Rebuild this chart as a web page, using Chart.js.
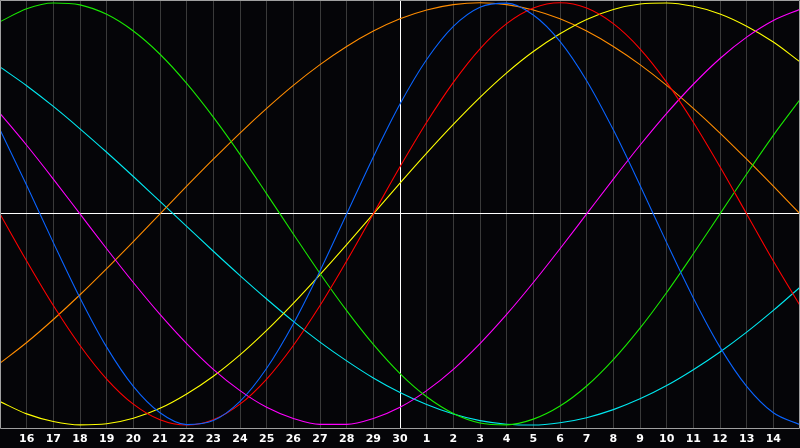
<!DOCTYPE html>
<html>
<head>
<meta charset="utf-8">
<script src="https://cdn.jsdelivr.net/npm/chart.js@4.4.1/dist/chart.umd.min.js"></script>
<style>
  html, body { margin: 0; padding: 0; background: #050508; }
  #wrap { width: 800px; height: 448px; position: relative; }
</style>
</head>
<body>
<div id="wrap"><canvas id="c"></canvas></div>
<script>
const days = ['15','16','17','18','19','20','21','22','23','24','25','26','27','28','29','30',
              '1','2','3','4','5','6','7','8','9','10','11','12','13','14','15'];

const physical23 = [0.398,0.136,-0.136,-0.398,-0.631,-0.817,-0.942,-0.998,-0.979,-0.888,-0.731,-0.520,-0.270,0.000,
                    0.270,0.520,0.731,0.888,0.979,0.998,0.942,0.817,0.631,0.398,0.136,-0.136,-0.398,-0.631,-0.817,-0.942,-0.998];
const emotional28 = [0.000,-0.223,-0.434,-0.623,-0.782,-0.901,-0.975,-1.000,-0.975,-0.901,-0.782,-0.623,-0.434,-0.223,
                     0.000,0.223,0.434,0.623,0.782,0.901,0.975,1.000,0.975,0.901,0.782,0.623,0.434,0.223,0.000,-0.223,-0.434];
const intellectual33 = [0.910,0.972,0.999,0.990,0.945,0.866,0.756,0.618,0.458,0.282,0.095,-0.095,-0.282,-0.458,-0.618,
                        -0.756,-0.866,-0.945,-0.990,-0.999,-0.972,-0.910,-0.815,-0.690,-0.541,-0.372,-0.189,0.000,0.189,0.372,0.541];
const intuitive38 = [0.476,0.325,0.165,0.000,-0.165,-0.325,-0.476,-0.614,-0.736,-0.837,-0.916,-0.969,-0.997,-0.997,-0.969,
                     -0.916,-0.837,-0.736,-0.614,-0.476,-0.325,-0.165,0.000,0.165,0.325,0.476,0.614,0.736,0.837,0.916,0.969];
const aesthetic43 = [-0.889,-0.947,-0.983,-0.999,-0.994,-0.968,-0.921,-0.853,-0.769,-0.668,-0.552,-0.424,-0.288,-0.146,
                     0.000,0.146,0.288,0.424,0.552,0.668,0.769,0.853,0.921,0.968,0.994,0.999,0.983,0.947,0.889,0.814,0.720];
const awareness48 = [-0.707,-0.609,-0.500,-0.383,-0.259,-0.131,0.000,0.131,0.259,0.383,0.500,0.609,0.707,0.793,0.866,
                     0.924,0.966,0.991,1.000,0.991,0.966,0.924,0.866,0.793,0.707,0.609,0.500,0.383,0.259,0.131,0.000];
const spiritual53 = [0.696,0.607,0.509,0.403,0.292,0.177,0.059,-0.059,-0.177,-0.292,-0.403,-0.509,-0.607,-0.696,-0.777,
                     -0.846,-0.903,-0.948,-0.979,-0.996,-1.000,-0.989,-0.965,-0.927,-0.876,-0.813,-0.738,-0.654,-0.560,-0.457,-0.347];

const yLimit = 1.013;

const series = [
  { label: 'Physical', data: physical23, color: '#0a64ff' },
  { label: 'Emotional', data: emotional28, color: '#ff0000' },
  { label: 'Intellectual', data: intellectual33, color: '#18e800' },
  { label: 'Intuitive', data: intuitive38, color: '#ff00ff' },
  { label: 'Aesthetic', data: aesthetic43, color: '#ffff00' },
  { label: 'Awareness', data: awareness48, color: '#ff8c00' },
  { label: 'Spiritual', data: spiritual53, color: '#00e8f0' }
];

const framePlugin = {
  id: 'frame',
  afterDatasetsDraw(chart) {
    const a = chart.chartArea, ctx = chart.ctx;
    const l = Math.round(a.left) + 0.5, r = Math.round(a.right) - 0.5;
    const t = Math.round(a.top) + 0.5, b = Math.round(a.bottom) + 0.5;
    ctx.save();
    ctx.strokeStyle = '#a0a0a0';
    ctx.lineWidth = 1;
    ctx.beginPath();
    ctx.moveTo(l, b);
    ctx.lineTo(l, t);
    ctx.lineTo(r, t);
    ctx.lineTo(r, b);
    ctx.lineTo(l, b);
    ctx.stroke();
    ctx.restore();
  }
};

new Chart(document.getElementById('c'), {
  type: 'line',
  data: {
    labels: days,
    datasets: series.map(s => ({
      label: s.label,
      data: s.data,
      borderColor: s.color,
      borderWidth: 1.1,
      pointRadius: 0,
      cubicInterpolationMode: 'monotone',
      fill: false
    }))
  },
  options: {
    responsive: true,
    maintainAspectRatio: false,
    animation: false,
    layout: { padding: { left: 0, right: 0, top: 0, bottom: 2 } },
    plugins: { legend: { display: false }, tooltip: { enabled: false } },
    scales: {
      x: {
        type: 'category',
        offset: false,
        grid: {
          drawTicks: true,
          tickLength: 5,
          tickColor: 'rgba(0,0,0,0)',
          color: ctx => (ctx.index === 15 ? '#ffffff' : '#3a3a3a'),
          lineWidth: 1
        },
        border: { display: false },
        ticks: {
          autoSkip: false,
          maxRotation: 0,
          padding: 0,
          color: '#ffffff',
          font: { family: 'DejaVu Sans', size: 11, weight: 'bold' },
          callback: function(v, i) { return (i === 0 || i === days.length - 1) ? '' : days[i]; }
        }
      },
      y: {
        min: -yLimit,
        max: yLimit,
        afterBuildTicks: axis => { axis.ticks = [{ value: 0 }]; },
        grid: {
          drawTicks: false,
          color: '#ffffff',
          lineWidth: 1
        },
        border: { display: false },
        ticks: { display: false }
      }
    }
  },
  plugins: [framePlugin]
});
</script>
</body>
</html>
